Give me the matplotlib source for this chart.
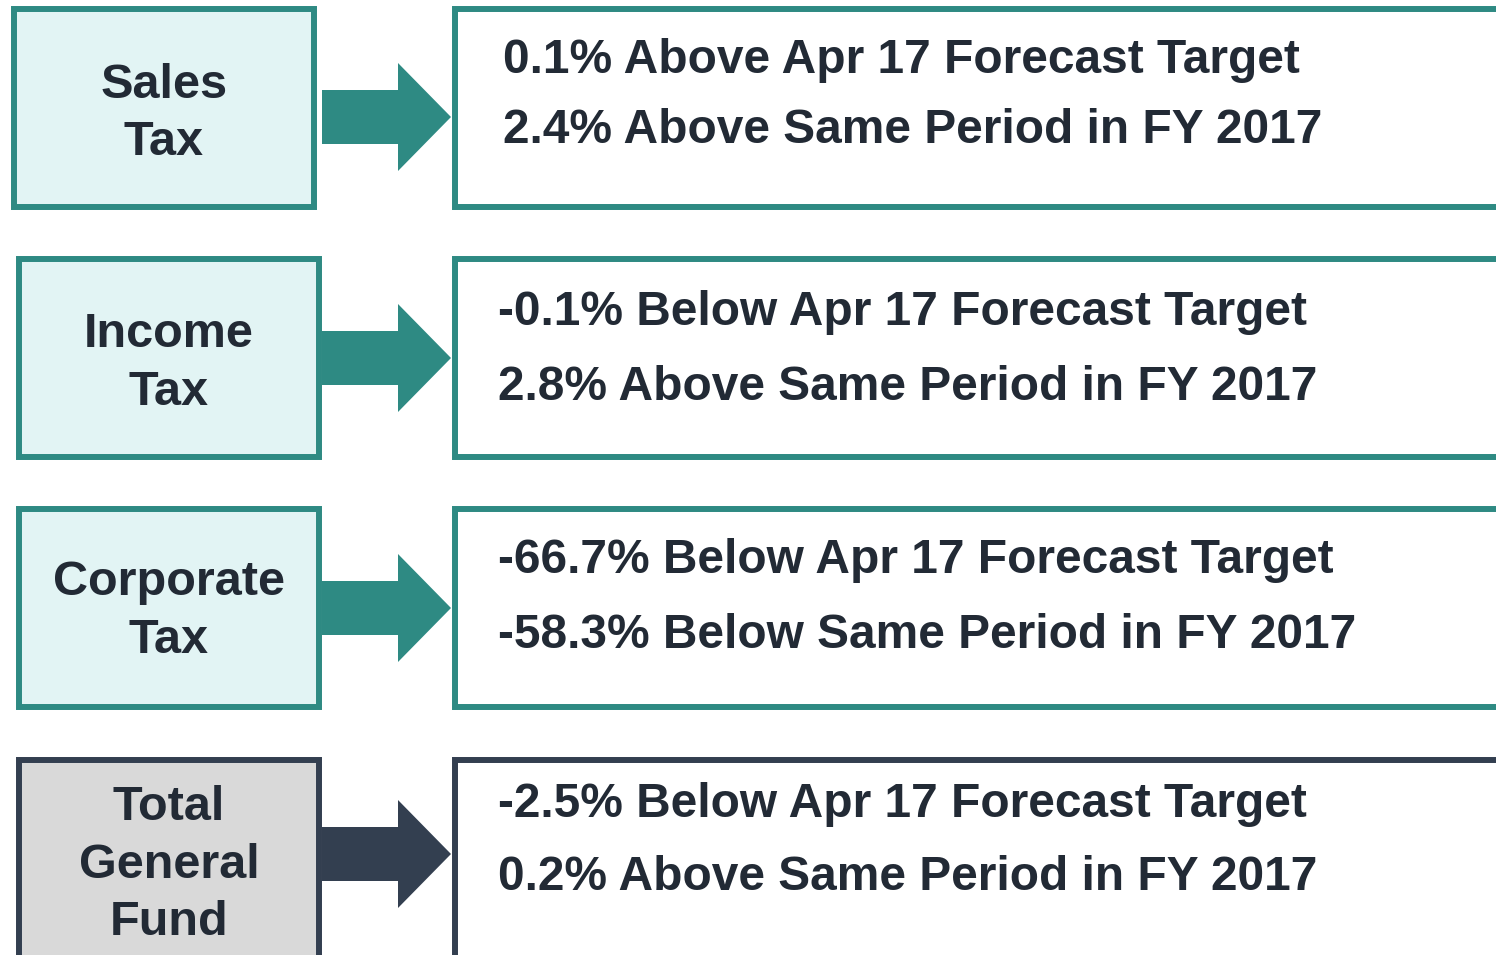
import matplotlib
matplotlib.use("Agg")
import matplotlib.pyplot as plt
from matplotlib.patches import Rectangle, Polygon

# ---- content ----
categories = ["Sales\nTax", "Income\nTax", "Corporate\nTax", "Total\nGeneral\nFund"]
forecast_lines = [
    "0.1% Above Apr 17 Forecast Target",
    "-0.1% Below Apr 17 Forecast Target",
    "-66.7% Below Apr 17 Forecast Target",
    "-2.5% Below Apr 17 Forecast Target",
]
prior_year_lines = [
    "2.4% Above Same Period in FY 2017",
    "2.8% Above Same Period in FY 2017",
    "-58.3% Below Same Period in FY 2017",
    "0.2% Above Same Period in FY 2017",
]

TEAL = "#2E8A83"
TEAL_FILL = "#E2F4F4"
NAVY = "#333F50"
GRAY_FILL = "#D9D9D9"
TXT = "#222A35"

W, H = 1496, 955
fig = plt.figure(figsize=(W / 100, H / 100), dpi=100)
ax = fig.add_axes([0, 0, 1, 1])
ax.set_xlim(0, W)
ax.set_ylim(H, 0)
ax.axis("off")

row_tops = [6, 256, 506, 757]
left_x = [11, 16, 16, 16]
arrow_mid = [117, 358, 608, 854]
left_baselines = [[98, 155], [347, 405], [595, 653], [820, 878, 935]]
right_baselines = [[73, 143], [325, 400], [573, 648], [817, 890]]
box_h = 204
lw = 4.3
font = "Liberation Sans"

for i, cat in enumerate(categories):
    top = row_tops[i]
    edge = NAVY if i == 3 else TEAL
    fill = GRAY_FILL if i == 3 else TEAL_FILL
    lx = left_x[i]
    # left box
    ax.add_patch(Rectangle((lx + 3, top + 3), 300, box_h - 6, facecolor=fill,
                           edgecolor=edge, linewidth=lw, joinstyle="miter"))
    # right box (extends past right edge)
    ax.add_patch(Rectangle((455, top + 3), 1100, box_h - 6, facecolor="white",
                           edgecolor=edge, linewidth=lw, joinstyle="miter"))
    # arrow
    mid = arrow_mid[i]
    shaft = 27
    head = 54
    pts = [(322, mid - shaft), (398, mid - shaft), (398, mid - head),
           (451, mid), (398, mid + head), (398, mid + shaft), (322, mid + shaft)]
    ax.add_patch(Polygon(pts, closed=True, facecolor=edge, edgecolor="none"))
    # left label
    cx = lx + 153
    for ln, yy in zip(cat.split("\n"), left_baselines[i]):
        ax.text(cx, yy, ln, ha="center", va="baseline", fontsize=35,
                fontweight="bold", color=TXT, family=font)
    # right texts
    tx = 503 if i == 0 else 498
    y1, y2 = right_baselines[i]
    ax.text(tx, y1, forecast_lines[i], ha="left", va="baseline", fontsize=34.5,
            fontweight="bold", color=TXT, family=font)
    ax.text(tx, y2, prior_year_lines[i], ha="left", va="baseline", fontsize=34.5,
            fontweight="bold", color=TXT, family=font)

fig.savefig("out.png", dpi=100, facecolor="white")
